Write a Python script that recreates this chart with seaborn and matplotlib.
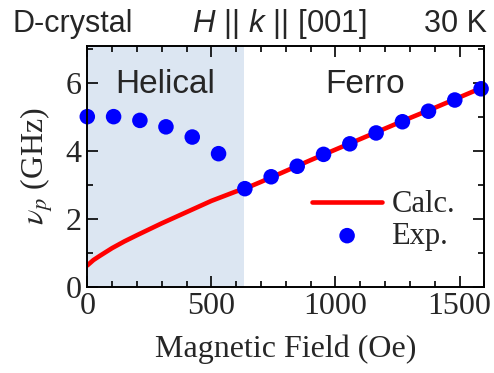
import numpy as np
import pandas as pd
import matplotlib
matplotlib.use("Agg")
import matplotlib.pyplot as plt
import seaborn as sns

# Experimental points
exp_field = [0, 106, 212, 317, 423, 529, 635, 741, 846, 952, 1058, 1164, 1270, 1375, 1481, 1587]
exp_freq = [5.00, 5.00, 4.89, 4.70, 4.40, 3.91, 2.88, 3.23, 3.54, 3.89, 4.20, 4.52, 4.85, 5.16, 5.49, 5.82]

# Calculated curve
calc_field = [0, 25, 50, 100, 150, 200, 300, 400, 500, 600, 635, 700, 800, 900, 1000,
              1100, 1200, 1300, 1400, 1500, 1600]
calc_freq = [0.62, 0.78, 0.90, 1.13, 1.33, 1.51, 1.86, 2.19, 2.52, 2.80, 2.88, 3.08, 3.40,
             3.72, 4.03, 4.34, 4.65, 4.96, 5.26, 5.57, 5.88]

helical_end = 632
x_ticks = [0, 500, 1000, 1500]
y_ticks = [0, 2, 4, 6]

sns.set_style("ticks")
plt.rcParams["font.family"] = ["Liberation Serif", "DejaVu Serif"]
plt.rcParams["mathtext.fontset"] = "custom"
plt.rcParams["mathtext.it"] = "Liberation Sans:italic"
plt.rcParams["mathtext.rm"] = "Liberation Sans"
plt.rcParams["axes.axisbelow"] = False
plt.rcParams["xtick.direction"] = "in"
plt.rcParams["ytick.direction"] = "in"
plt.rcParams["xtick.top"] = True
plt.rcParams["ytick.right"] = True

fig = plt.figure(figsize=(4.94, 3.73), dpi=100)
ax = fig.add_axes([0.1767, 0.2319, 0.8037, 0.6448])

ax.axvspan(0, helical_end, color="#dce6f2", lw=0, zorder=0)

df_calc = pd.DataFrame({"field": calc_field, "freq": calc_freq})
df_exp = pd.DataFrame({"field": exp_field, "freq": exp_freq})

sns.lineplot(data=df_calc, x="field", y="freq", ax=ax, color="#ff0000", lw=3.3,
             label="Calc.", zorder=3)
sns.scatterplot(data=df_exp, x="field", y="freq", ax=ax, color="#0000ff", s=125,
                edgecolor="none", label="Exp.", zorder=4, clip_on=False)

ax.set_xlim(0, 1600)
ax.set_ylim(0, 7.08)
ax.set_xticks(x_ticks)
ax.set_yticks(y_ticks)
ax.xaxis.set_minor_locator(matplotlib.ticker.MultipleLocator(100))
ax.yaxis.set_minor_locator(matplotlib.ticker.MultipleLocator(1))
ax.tick_params(which="both", direction="in", top=True, right=True, bottom=True,
               left=True, width=1.2, labelsize=23, color="black")
ax.tick_params(which="major", length=8, pad=4)
ax.tick_params(which="minor", length=4.3)
ax.set_axisbelow(False)
for s in ax.spines.values():
    s.set_linewidth(1.4)
    s.set_color("black")
    s.set_zorder(5)

ax.set_xlabel("Magnetic Field (Oe)", fontsize=23, labelpad=10)
ax.set_ylabel(r"$\nu_p$ (GHz)", fontsize=23, labelpad=8, math_fontfamily="stix")

sans = ["Liberation Sans", "DejaVu Sans"]
ax.text(0.196, 0.84, "Helical", transform=ax.transAxes, ha="center", va="center",
        fontsize=24, family=sans)
ax.text(0.70, 0.84, "Ferro", transform=ax.transAxes, ha="center", va="center",
        fontsize=24, family=sans)

fig.text(0.026, 0.915, "D-crystal", fontsize=22, ha="left", va="baseline", family=sans)
fig.text(0.565, 0.915, r"$H$ || $k$ || [001]", fontsize=22.5,
         ha="center", va="baseline", family=sans)
fig.text(0.986, 0.915, "30 K", fontsize=22, ha="right", va="baseline", family=sans)

leg = ax.legend(loc="lower left", bbox_to_anchor=(0.512, 0.06), frameon=False,
                fontsize=22, handlelength=2.3, handletextpad=0.3, labelspacing=0.08,
                borderpad=0.2, markerscale=1.0)

fig.savefig("out.png", dpi=100)
